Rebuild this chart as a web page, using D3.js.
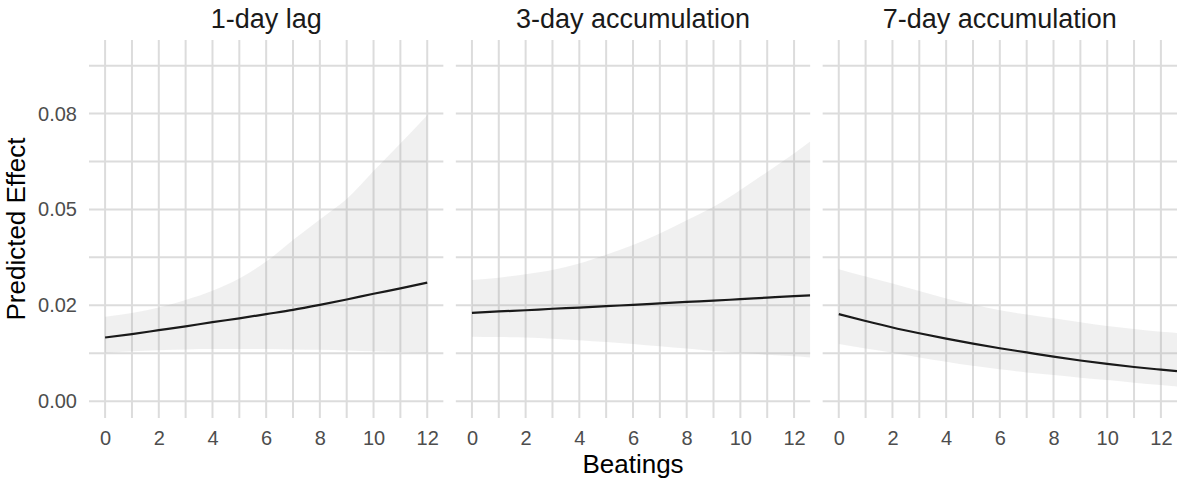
<!DOCTYPE html>
<html>
<head>
<meta charset="utf-8">
<script src="https://cdn.jsdelivr.net/npm/d3@7"></script>
<style>
  html, body { margin: 0; padding: 0; background: #fff; overflow: hidden; }
  svg { display: block; }
  text { font-family: 'Liberation Sans', Arial, sans-serif; }
</style>
</head>
<body>
<svg width="1177" height="480"></svg>
<script>
const panelTitles = ['1-day lag', '3-day accumulation', '7-day accumulation'];

// x values (panels 2 and 3 run to the right edge)
const xLag = [0, 1, 2, 3, 4, 5, 6, 7, 8, 9, 10, 11, 12];
const xAcc = [0, 1, 2, 3, 4, 5, 6, 7, 8, 9, 10, 11, 12, 12.6];

const lagFit   = [0.0166, 0.0175, 0.0185, 0.0195, 0.0206, 0.0216, 0.0227, 0.0238, 0.0251, 0.0265, 0.0280, 0.0294, 0.0309];
const lagUpper = [0.0220, 0.0230, 0.0244, 0.0264, 0.0288, 0.0320, 0.0364, 0.0420, 0.0474, 0.0527, 0.0600, 0.0672, 0.0746];
const lagLower = [0.0126, 0.0130, 0.0133, 0.0135, 0.0136, 0.0136, 0.0136, 0.0135, 0.0134, 0.0132, 0.0130, 0.0128, 0.0126];

const acc3Fit   = [0.0230, 0.0234, 0.0237, 0.0241, 0.0244, 0.0248, 0.0251, 0.0255, 0.0259, 0.0262, 0.0266, 0.0270, 0.0274, 0.0276];
const acc3Upper = [0.0316, 0.0322, 0.0331, 0.0342, 0.0359, 0.0382, 0.0407, 0.0437, 0.0472, 0.0507, 0.0551, 0.0598, 0.0646, 0.0677];
const acc3Lower = [0.0168, 0.0167, 0.0166, 0.0163, 0.0159, 0.0154, 0.0149, 0.0143, 0.0137, 0.0131, 0.0126, 0.0121, 0.0117, 0.0114];

const acc7Fit   = [0.0227, 0.0209, 0.0192, 0.0177, 0.0163, 0.0150, 0.0138, 0.0127, 0.0116, 0.0106, 0.0097, 0.0089, 0.0082, 0.0078];
const acc7Upper = [0.0344, 0.0325, 0.0307, 0.0287, 0.0268, 0.0252, 0.0237, 0.0226, 0.0216, 0.0206, 0.0196, 0.0188, 0.0181, 0.0178];
const acc7Lower = [0.0149, 0.0137, 0.0126, 0.0114, 0.0103, 0.0092, 0.0083, 0.0075, 0.0068, 0.0061, 0.0055, 0.0048, 0.0042, 0.0038];

const xTicks = [0, 2, 4, 6, 8, 10, 12];
const xMinor = [1, 3, 5, 7, 9, 11];
const yTicks = [0, 0.025, 0.05, 0.075];
const yTickLabels = ['0.00', '0.02', '0.05', '0.08'];
const yMinor = [0.0125, 0.0375, 0.0625, 0.0875];

const svg = d3.select('svg');
const width = parseFloat(svg.attr('width'));
const height = parseFloat(svg.attr('height'));
const margin = { top: 40, right: 0, bottom: 62, left: 89 };
const gap = 12.5;
const panelWidth = (width - margin.left - margin.right - 2 * gap) / 3;
const innerHeight = height - margin.top - margin.bottom;

const xScale = d3.scaleLinear().domain([-0.6, 12.6]).range([0, panelWidth]);
const yScale = d3.scaleLinear().domain([-0.0044, 0.0942]).range([innerHeight, 0]);

function rows(xs, fit, upper, lower) {
  return xs.map((x, i) => ({ x: x, fit: fit[i], upper: upper[i], lower: lower[i] }));
}

const panels = [
  rows(xLag, lagFit, lagUpper, lagLower),
  rows(xAcc, acc3Fit, acc3Upper, acc3Lower),
  rows(xAcc, acc7Fit, acc7Upper, acc7Lower),
];

const gridColor = '#dcdcdc';

const area = d3.area()
  .x((d) => xScale(d.x))
  .y0((d) => yScale(d.lower))
  .y1((d) => yScale(d.upper))
  .curve(d3.curveMonotoneX);

const line = d3.line()
  .x((d) => xScale(d.x))
  .y((d) => yScale(d.fit))
  .curve(d3.curveMonotoneX);

panels.forEach((data, i) => {
  const left = margin.left + i * (panelWidth + gap);
  const g = svg.append('g').attr('transform', `translate(${left}, ${margin.top})`);

  g.append('clipPath').attr('id', 'clip' + i)
    .append('rect').attr('width', panelWidth).attr('height', innerHeight);

  // grid: horizontal lines, then vertical lines
  g.selectAll('.hgrid')
    .data(yTicks.concat(yMinor))
    .enter()
    .append('line')
    .attr('x1', 0)
    .attr('x2', panelWidth)
    .attr('y1', (d) => yScale(d))
    .attr('y2', (d) => yScale(d))
    .attr('stroke', gridColor)
    .attr('stroke-width', 2);

  g.selectAll('.vgrid')
    .data(xTicks.concat(xMinor))
    .enter()
    .append('line')
    .attr('x1', (d) => xScale(d))
    .attr('x2', (d) => xScale(d))
    .attr('y1', 0)
    .attr('y2', innerHeight)
    .attr('stroke', gridColor)
    .attr('stroke-width', 2);

  const plot = g.append('g').attr('clip-path', `url(#clip${i})`);

  plot.append('path')
    .datum(data)
    .attr('d', area)
    .attr('fill', '#999999')
    .attr('fill-opacity', 0.15);

  plot.append('path')
    .datum(data)
    .attr('d', line)
    .attr('fill', 'none')
    .attr('stroke', '#1a1a1a')
    .attr('stroke-width', 2.2);

  // strip title
  svg.append('text')
    .attr('x', left + panelWidth / 2)
    .attr('y', 28)
    .attr('text-anchor', 'middle')
    .style('font-size', '27px')
    .attr('fill', '#1a1a1a')
    .text(panelTitles[i]);

  // x axis labels
  const xAxis = d3.axisBottom(xScale).tickValues(xTicks).tickSize(0).tickPadding(0);
  const xg = g.append('g')
    .attr('transform', `translate(0, ${innerHeight})`)
    .call(xAxis)
    .attr('font-size', null)
    .attr('font-family', null);
  xg.select('.domain').remove();
  xg.selectAll('text')
    .attr('dy', null)
    .attr('y', 27)
    .style('font-size', '20px')
    .attr('fill', '#4d4d4d');

  // y axis labels on first panel only
  if (i === 0) {
    const yAxis = d3.axisLeft(yScale)
      .tickValues(yTicks)
      .tickFormat((d, k) => yTickLabels[k])
      .tickSize(0)
      .tickPadding(12);
    const yg = g.append('g').call(yAxis)
      .attr('font-size', null)
      .attr('font-family', null);
    yg.select('.domain').remove();
    yg.selectAll('text')
      .style('font-size', '20px')
      .attr('fill', '#4d4d4d');
  }
});

svg.append('text')
  .attr('x', margin.left + (width - margin.left) / 2)
  .attr('y', 473)
  .attr('text-anchor', 'middle')
  .style('font-size', '26px')
  .attr('fill', '#000')
  .text('Beatings');

svg.append('text')
  .attr('transform', `translate(25, ${margin.top + innerHeight / 2}) rotate(-90)`)
  .attr('text-anchor', 'middle')
  .style('font-size', '26px')
  .attr('fill', '#000')
  .text('Predicted Effect');
</script>
</body>
</html>
